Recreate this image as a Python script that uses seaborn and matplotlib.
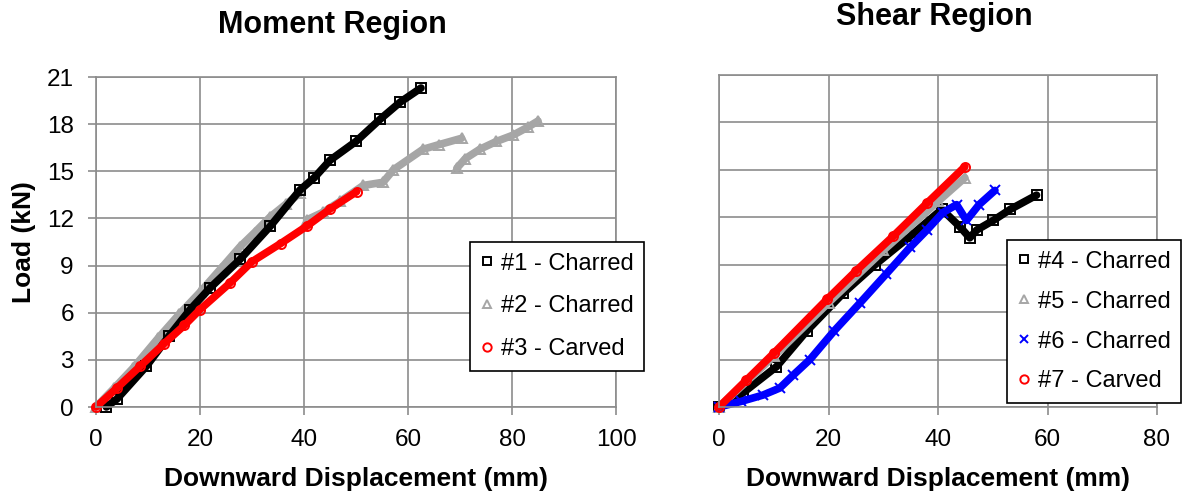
import pandas as pd
import seaborn as sns
import matplotlib.pyplot as plt
from matplotlib.lines import Line2D

# ---- Moment region ----
m1_x = [2.0, 4.0, 9.7, 14.0, 18.1, 22.0, 27.7, 33.5, 39.2, 42.0, 45.0, 50.0, 54.6, 58.5, 62.5]
m1_y = [0.0, 0.5, 2.6, 4.5, 6.2, 7.6, 9.4, 11.5, 13.8, 14.6, 15.7, 16.9, 18.3, 19.4, 20.3]

m2_x = [0.0, 3.5, 7.2, 12.0, 16.0, 20.0, 24.0, 27.7, 30.5, 33.5, 36.5, 39.2,
        40.5, 43.7, 47.0, 51.4, 55.2, 57.2, 62.9, 66.0, 70.3,
        69.4, 71.0, 73.8, 77.0, 80.2, 83.0, 85.0]
m2_y = [0.0, 1.2, 2.5, 4.4, 5.9, 7.3, 8.8, 10.2, 11.1, 12.1, 12.9, 13.6,
        11.9, 12.4, 13.1, 14.1, 14.3, 15.1, 16.4, 16.7, 17.1,
        15.2, 15.8, 16.4, 16.9, 17.3, 17.8, 18.2]
m2_seg = [0] * 12 + [1] * 9 + [2] * 7

m3_x = [0.0, 4.0, 8.5, 13.0, 17.0, 20.0, 25.8, 30.0, 35.5, 40.5, 45.0, 50.1]
m3_y = [0.0, 1.2, 2.6, 4.0, 5.2, 6.2, 7.9, 9.25, 10.4, 11.5, 12.6, 13.7]

# ---- Shear region ----
s4_x = [0.0, 4.4, 10.5, 16.0, 22.7, 28.5, 34.9, 40.7, 44.0, 45.8, 47.1, 50.1, 53.2, 58.0]
s4_y = [0.0, 0.9, 2.55, 4.8, 7.2, 9.0, 10.8, 12.5, 11.4, 10.7, 11.2, 11.8, 12.5, 13.4]

s5_x = [0.0, 10.0, 20.0, 30.0, 40.0, 44.9]
s5_y = [0.0, 3.2, 6.6, 9.9, 13.0, 14.5]

s6_x = [0.0, 4.0, 8.0, 11.1, 13.5, 16.6, 21.0, 25.8, 30.5, 34.9, 38.0, 40.9,
        43.4, 45.2, 47.5, 50.4]
s6_y = [0.0, 0.35, 0.75, 1.2, 2.0, 3.0, 4.8, 6.6, 8.4, 10.1, 11.2, 12.3,
        12.8, 11.8, 12.8, 13.7]

s7_x = [0.0, 5.0, 10.0, 19.7, 25.0, 31.8, 38.0, 44.9]
s7_y = [0.0, 1.7, 3.4, 6.8, 8.6, 10.8, 12.9, 15.2]

left_labels = ["#1 - Charred", "#2 - Charred", "#3 - Carved"]
right_labels = ["#4 - Charred", "#5 - Charred", "#6 - Charred", "#7 - Carved"]

BLACK, GRAY, RED, BLUE = "black", "#a6a6a6", "#ff0000", "#0000ff"
grid_c = "#8c8c8c"

sns.set_theme(style="white")
plt.rcParams["font.family"] = ["Liberation Sans", "DejaVu Sans"]
plt.rcParams.update({"text.color": "black", "axes.labelcolor": "black",
                     "xtick.color": "black", "ytick.color": "black"})

fig = plt.figure(figsize=(11.84, 4.94), dpi=100)
ax1 = fig.add_axes([96 / 1184, 87 / 494, 520 / 1184, 330 / 494])
ax2 = fig.add_axes([719 / 1184, 87 / 494, 438 / 1184, 332 / 494])


def draw(ax, x, y, color, marker, seg=None):
    df = pd.DataFrame({"x": x, "y": y, "seg": seg if seg is not None else [0] * len(x)})
    sns.lineplot(data=df, x="x", y="y", units="seg", estimator=None, sort=False,
                 color=color, lw=5.5, marker=marker, markersize=6.5,
                 markerfacecolor="none", markeredgecolor=color, markeredgewidth=1.4,
                 legend=False, ax=ax, clip_on=False)


draw(ax1, m2_x, m2_y, GRAY, "^", m2_seg)
draw(ax1, m1_x, m1_y, BLACK, "s")
draw(ax1, m3_x, m3_y, RED, "o")

draw(ax2, s4_x, s4_y, BLACK, "s")
draw(ax2, s5_x, s5_y, GRAY, "^")
draw(ax2, s6_x, s6_y, BLUE, "x")
draw(ax2, s7_x, s7_y, RED, "o")


def handle(color, marker):
    return Line2D([], [], ls="none", marker=marker, ms=6, mfc="none", mec=color, mew=1.4)


for ax, xmax in [(ax1, 100), (ax2, 80)]:
    ax.set_xlim(0, xmax)
    ax.set_ylim(0, 21)
    ax.set_xticks(range(0, xmax + 1, 20))
    ax.set_yticks(range(0, 22, 3))
    ax.grid(True, color=grid_c, lw=1.2)
    ax.set_axisbelow(True)
    for sp in ax.spines.values():
        sp.set_color(grid_c)
        sp.set_linewidth(1.2)
    ax.tick_params(axis="both", labelsize=17.5, color=grid_c, width=1.2, length=6,
                   direction="out", bottom=True, left=True)
    ax.tick_params(axis="x", pad=10)
    ax.tick_params(axis="y", pad=10)
    ax.set_xlabel("Downward Displacement (mm)", fontsize=19, fontweight="bold", labelpad=11)
    ax.set_ylabel("")

ax1.set_ylabel("Load (kN)", fontsize=19, fontweight="bold", labelpad=8)
ax2.tick_params(axis="y", left=False, labelleft=False)

leg_kw = dict(fontsize=17, frameon=True, fancybox=False, framealpha=1, edgecolor="black",
              handlelength=0.5, handletextpad=0.35, borderpad=0.45, borderaxespad=0)
l1 = ax1.legend([handle(BLACK, "s"), handle(GRAY, "^"), handle(RED, "o")], left_labels,
                loc="upper right", bbox_to_anchor=(1.054, 0.5), labelspacing=0.88, **leg_kw)
l2 = ax2.legend([handle(BLACK, "s"), handle(GRAY, "^"), handle(BLUE, "x"), handle(RED, "o")],
                right_labels, loc="upper left", bbox_to_anchor=(0.658, 0.503),
                labelspacing=0.76, **leg_kw)
for l in (l1, l2):
    l.get_frame().set_linewidth(1.2)
    l.set_zorder(10)

fig.text(332 / 1184, 1 - 25 / 494, "Moment Region", fontsize=22, fontweight="bold",
         ha="center", va="center")
fig.text(934 / 1184, 1 - 17 / 494, "Shear Region", fontsize=22, fontweight="bold",
         ha="center", va="center")

fig.savefig("out.png", dpi=100)
